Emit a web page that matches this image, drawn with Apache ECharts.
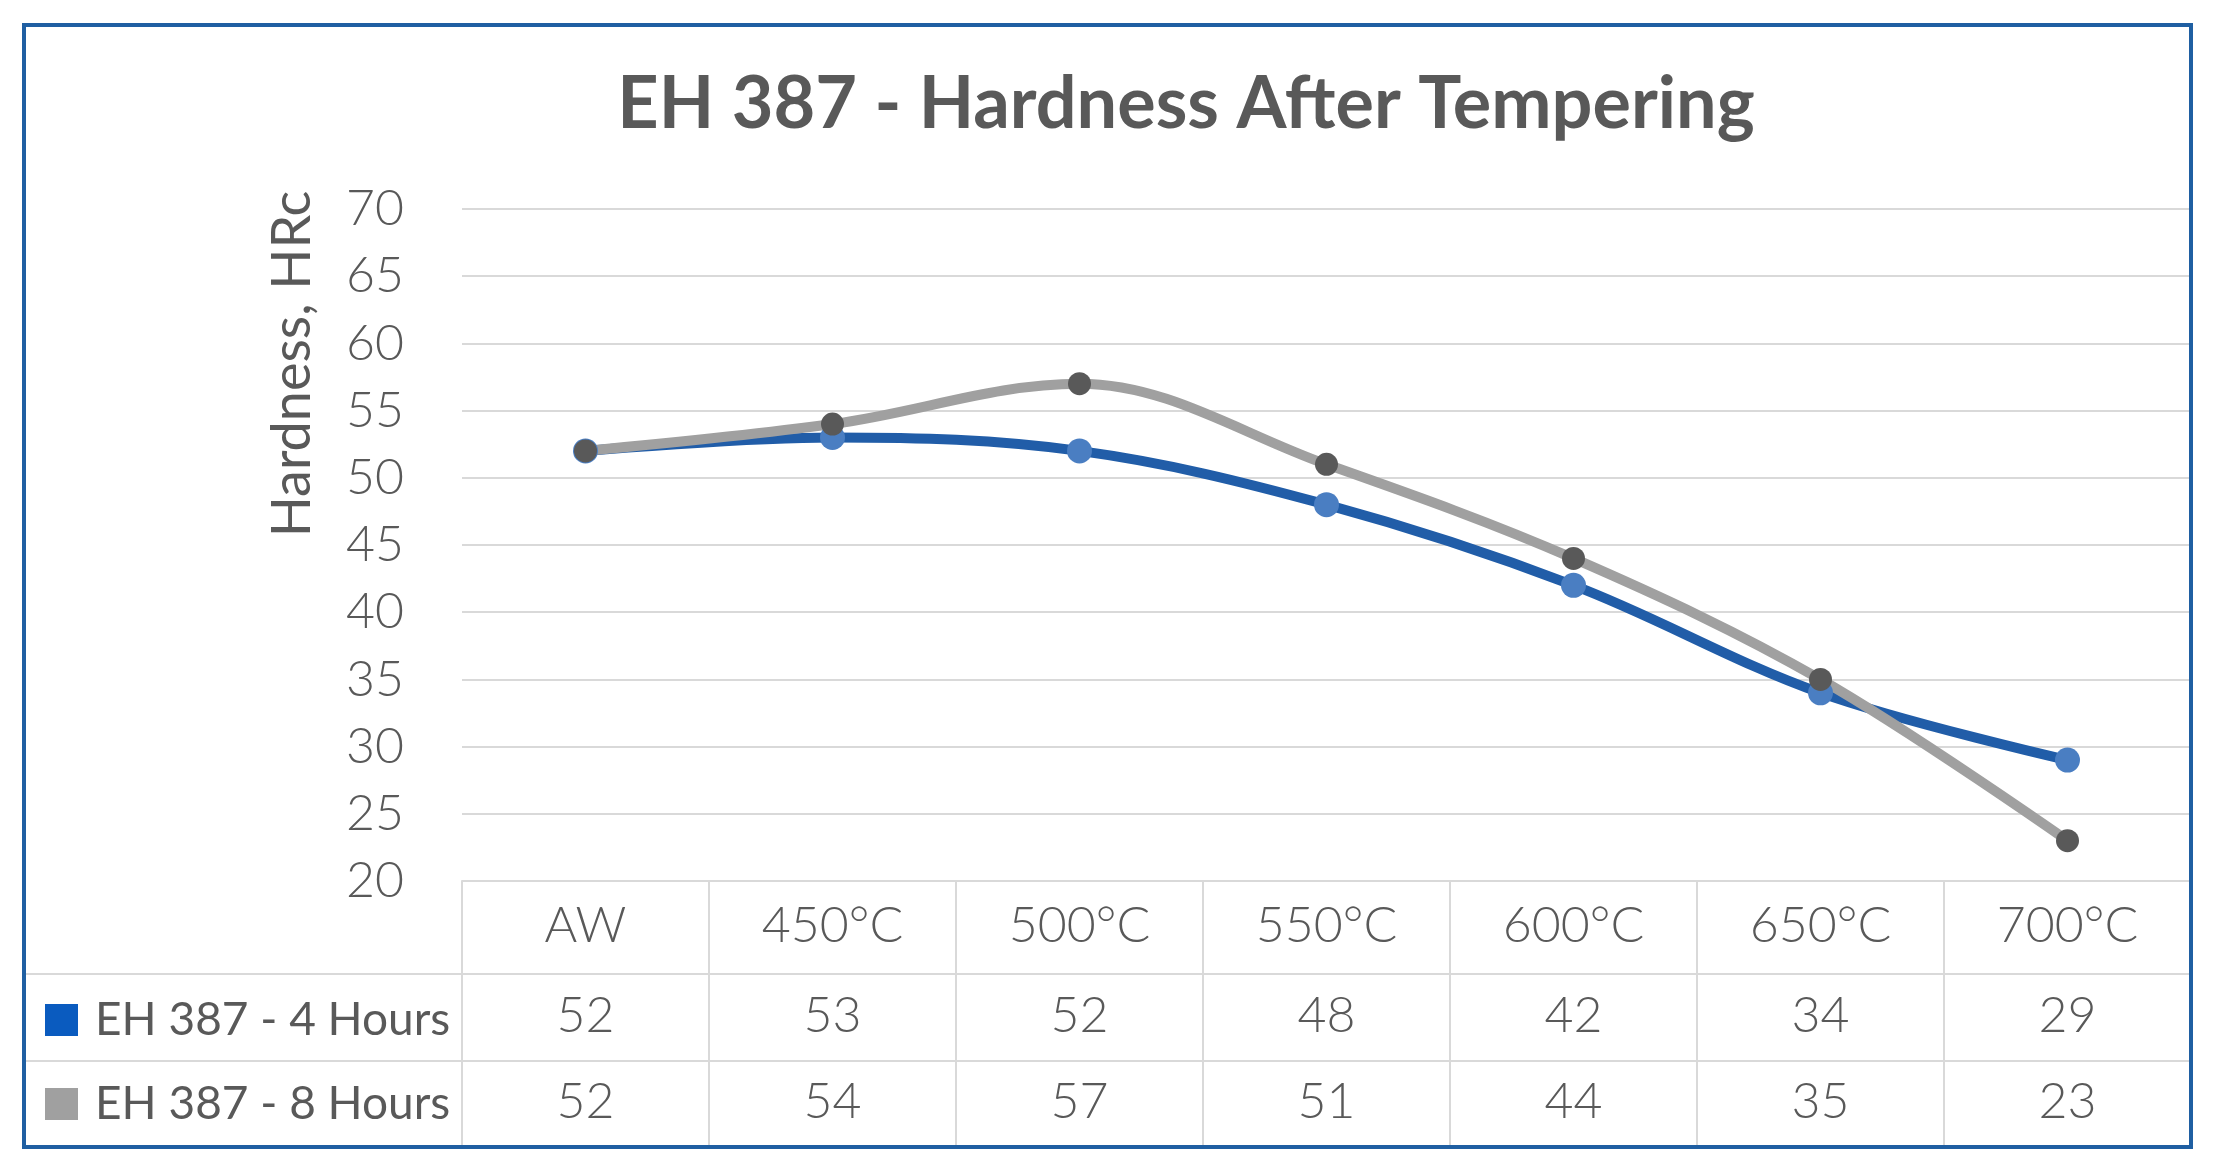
<!DOCTYPE html>
<html>
<head>
<meta charset="utf-8">
<title>EH 387 - Hardness After Tempering</title>
<script src="https://cdn.jsdelivr.net/npm/echarts@6/dist/echarts.min.js"></script>
<style>
    html, body { margin: 0; padding: 0; background: #fff; }
    #chart { width: 2218px; height: 1174px; }
</style>
</head>
<body>
<div id="chart"></div>
<script>
// data
var categories = ['AW', '450°C', '500°C', '550°C', '600°C', '650°C', '700°C'];
var hours4 = [52, 53, 52, 48, 42, 34, 29];
var hours8 = [52, 54, 57, 51, 44, 35, 23];
var seriesNames = ['EH 387 - 4 Hours', 'EH 387 - 8 Hours'];
var yMin = 20, yMax = 70, yStep = 5;

var textColor = '#595959';
var lineGray = '#d9d9d9';
var font = 'Lato, "Open Sans", "Noto Sans", sans-serif';

var myChart = echarts.init(document.getElementById('chart'));

// plot box
var plotLeft = 462, plotRight = 2191, plotTop = 209, plotBottom = 881;
var tableBottom = 1147;
// table rows (centre of text)
var rowHeader = 926, row1 = 1016, row2 = 1102;

function labelStyle(margin, formatter) {
    var s = {
        margin: margin,
        color: textColor,
        fontFamily: font,
        fontWeight: 300,
        fontSize: 50,
        verticalAlign: 'middle',
        interval: 0
    };
    if (formatter) s.formatter = formatter;
    return s;
}

var option = {
    backgroundColor: '#fff',
    animation: false,
    title: {
        text: 'EH 387 - Hardness After Tempering',
        left: 1181,
        top: 100,
        textAlign: 'center',
        textVerticalAlign: 'middle',
        textStyle: {
            color: textColor,
            fontFamily: font,
            fontWeight: 'bold',
            fontSize: 72
        }
    },
    legend: {
        orient: 'vertical',
        left: 45,
        top: 997,
        padding: 0,
        itemWidth: 33,
        itemHeight: 32,
        itemGap: 38,
        textStyle: {
            color: textColor,
            fontFamily: font,
            fontSize: 46,
            padding: [0, 0, 0, 12]
        },
        data: [
            { name: seriesNames[0], icon: 'rect', itemStyle: { color: '#0a5bbf', borderWidth: 0 } },
            { name: seriesNames[1], icon: 'rect', itemStyle: { color: '#a0a0a0', borderWidth: 0 } }
        ]
    },
    grid: [
        { left: plotLeft, right: 2218 - plotRight, top: plotTop, bottom: 1174 - plotBottom },
        // data table area, only used for the column lines
        { left: plotLeft, right: 2218 - plotRight, top: plotBottom, bottom: 1174 - tableBottom }
    ],
    xAxis: [
        {
            type: 'category',
            gridIndex: 0,
            data: categories,
            position: 'bottom',
            axisLine: { show: true, lineStyle: { color: lineGray, width: 2 } },
            axisTick: { show: false },
            axisLabel: labelStyle(rowHeader - plotBottom)
        },
        {
            type: 'category',
            gridIndex: 0,
            data: categories,
            position: 'bottom',
            axisLine: { show: false },
            axisTick: { show: false },
            axisLabel: labelStyle(row1 - plotBottom, function (v, i) { return String(hours4[i]); })
        },
        {
            type: 'category',
            gridIndex: 0,
            data: categories,
            position: 'bottom',
            axisLine: { show: false },
            axisTick: { show: false },
            axisLabel: labelStyle(row2 - plotBottom, function (v, i) { return String(hours8[i]); })
        },
        {
            type: 'category',
            gridIndex: 1,
            data: categories,
            axisLine: { show: false },
            axisTick: { show: false },
            axisLabel: { show: false },
            splitLine: { show: true, lineStyle: { color: lineGray, width: 2 } }
        }
    ],
    yAxis: [
        {
            type: 'value',
            gridIndex: 0,
            min: yMin,
            max: yMax,
            interval: yStep,
            axisLine: { show: false },
            axisTick: { show: false },
            splitLine: { show: true, lineStyle: { color: lineGray, width: 2 } },
            axisLabel: {
                margin: 58,
                color: textColor,
                fontFamily: font,
                fontWeight: 300,
                fontSize: 50
            }
        },
        {
            type: 'value',
            gridIndex: 1,
            show: false
        }
    ],
    series: [
        {
            name: seriesNames[0],
            type: 'line',
            xAxisIndex: 0,
            yAxisIndex: 0,
            data: hours4,
            smooth: 0.35,
            symbol: 'circle',
            symbolSize: 25,
            lineStyle: { color: '#215da8', width: 10, cap: 'round' },
            itemStyle: { color: '#4a7ec2' }
        },
        {
            name: seriesNames[1],
            type: 'line',
            xAxisIndex: 0,
            yAxisIndex: 0,
            data: hours8,
            smooth: 0.35,
            symbol: 'circle',
            symbolSize: 23,
            lineStyle: { color: '#a0a0a0', width: 10, cap: 'round' },
            itemStyle: { color: '#595959' }
        }
    ],
    graphic: [
        // outer frame
        {
            type: 'rect',
            shape: { x: 24, y: 25, width: plotRight - 24, height: tableBottom - 25 },
            style: { fill: 'none', stroke: '#1f5fa2', lineWidth: 4 },
            z: 10
        },
        // table row lines (they run under the legend too)
        {
            type: 'line',
            shape: { x1: 24, y1: 974, x2: plotRight, y2: 974 },
            style: { stroke: lineGray, lineWidth: 2 }
        },
        {
            type: 'line',
            shape: { x1: 24, y1: 1061, x2: plotRight, y2: 1061 },
            style: { stroke: lineGray, lineWidth: 2 }
        },
        // y axis title
        {
            type: 'text',
            x: 293,
            y: 364,
            rotation: Math.PI / 2,
            style: {
                text: 'Hardness, HRc',
                fill: textColor,
                font: '54px ' + font,
                align: 'center',
                verticalAlign: 'middle'
            }
        }
    ]
};

myChart.setOption(option);
</script>
</body>
</html>
